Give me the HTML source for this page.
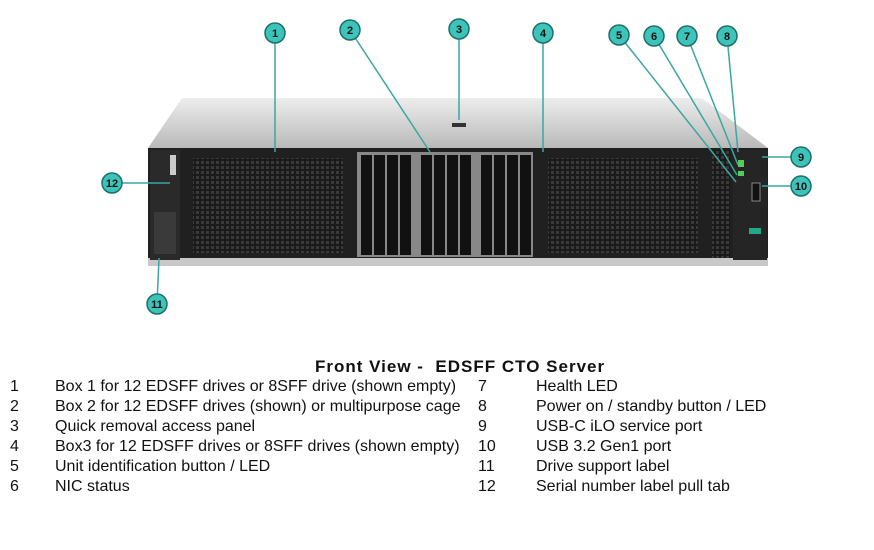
<!DOCTYPE html>
<html><head><style>
body{margin:0;width:874px;height:550px;background:#fff;overflow:hidden;font-family:"Liberation Sans",sans-serif}
.t{position:absolute;font-size:16px;color:#111;white-space:nowrap;line-height:20px}
</style></head><body>
<svg width="874" height="340" style="position:absolute;left:0;top:0">
<defs>
<linearGradient id="top" x1="0" y1="0" x2="0" y2="1"><stop offset="0" stop-color="#ededed"/><stop offset="1" stop-color="#b9b9b9"/></linearGradient>
<pattern id="grill" width="5" height="5" patternUnits="userSpaceOnUse"><rect width="5" height="5" fill="#1a1a1a"/><rect x="1" y="1" width="3" height="3" fill="#3a3a3a"/></pattern>
</defs>
<polygon points="182,98 702,98 768,148 148,148" fill="url(#top)"/>
<rect x="452" y="123" width="14" height="4" fill="#333"/>
<rect x="148" y="148" width="620" height="116" fill="#202020"/>
<rect x="148" y="258" width="620" height="8" fill="#c8c8c8"/>
<rect x="150" y="150" width="30" height="110" fill="#2a2a2a"/>
<rect x="154" y="212" width="22" height="42" fill="#3a3a3a"/>
<rect x="170" y="155" width="6" height="20" fill="#ccc"/>
<rect x="193" y="158" width="150" height="95" fill="url(#grill)"/>
<rect x="357" y="152" width="176" height="105" fill="#888"/>
<g fill="#111">
<rect x="361" y="155" width="11" height="100"/><rect x="374" y="155" width="11" height="100"/><rect x="387" y="155" width="11" height="100"/><rect x="400" y="155" width="11" height="100"/>
<rect x="421" y="155" width="11" height="100"/><rect x="434" y="155" width="11" height="100"/><rect x="447" y="155" width="11" height="100"/><rect x="460" y="155" width="11" height="100"/>
<rect x="481" y="155" width="11" height="100"/><rect x="494" y="155" width="11" height="100"/><rect x="507" y="155" width="11" height="100"/><rect x="520" y="155" width="11" height="100"/>
</g>
<rect x="548" y="158" width="150" height="95" fill="url(#grill)"/>
<rect x="712" y="150" width="18" height="108" fill="url(#grill)"/>
<rect x="733" y="150" width="34" height="110" fill="#252525"/>
<rect x="738" y="160" width="6" height="7" fill="#5c5"/><rect x="738" y="171" width="6" height="5" fill="#5c5"/>
<rect x="752" y="183" width="8" height="18" fill="#111" stroke="#888"/>
<rect x="749" y="228" width="12" height="6" fill="#2a8"/>
<g stroke="#3aa7a0" stroke-width="1.5" fill="none">
<line x1="275" y1="33" x2="275" y2="152"/><line x1="350" y1="30" x2="430" y2="152"/><line x1="459" y1="29" x2="459" y2="120"/><line x1="543" y1="33" x2="543" y2="152"/>
<line x1="619" y1="35" x2="736" y2="182"/><line x1="654" y1="36" x2="737" y2="175"/><line x1="687" y1="36" x2="738" y2="165"/><line x1="727" y1="36" x2="738" y2="152"/>
<line x1="801" y1="157" x2="762" y2="157"/><line x1="801" y1="186" x2="762" y2="186"/><line x1="112" y1="183" x2="170" y2="183"/><line x1="157" y1="304" x2="159" y2="258"/>
</g>
<g fill="#3cc4bb" stroke="#1f6e6a" stroke-width="1.5">
<circle cx="275" cy="33" r="10"/><circle cx="350" cy="30" r="10"/><circle cx="459" cy="29" r="10"/><circle cx="543" cy="33" r="10"/>
<circle cx="619" cy="35" r="10"/><circle cx="654" cy="36" r="10"/><circle cx="687" cy="36" r="10"/><circle cx="727" cy="36" r="10"/>
<circle cx="801" cy="157" r="10"/><circle cx="801" cy="186" r="10"/><circle cx="112" cy="183" r="10"/><circle cx="157" cy="304" r="10"/>
</g>
<g font-family="Liberation Sans" font-size="11" font-weight="bold" fill="#111" text-anchor="middle">
<text x="275" y="37">1</text><text x="350" y="34">2</text><text x="459" y="33">3</text><text x="543" y="37">4</text>
<text x="619" y="39">5</text><text x="654" y="40">6</text><text x="687" y="40">7</text><text x="727" y="40">8</text>
<text x="801" y="161">9</text><text x="801" y="190">10</text><text x="112" y="187">12</text><text x="157" y="308">11</text>
</g>
</svg>
<div class="t" style="left:315px;top:357px;font-weight:bold;font-size:17px;letter-spacing:1px">Front View -&nbsp; EDSFF CTO Server</div>
<div class="t" style="left:10px;top:377px">1<br>2<br>3<br>4<br>5<br>6</div>
<div class="t" style="left:55px;top:377px">Box 1 for 12 EDSFF drives or 8SFF drive (shown empty)<br>Box 2 for 12 EDSFF drives (shown) or multipurpose cage<br>Quick removal access panel<br>Box3 for 12 EDSFF drives or 8SFF drives (shown empty)<br>Unit identification button / LED<br>NIC status</div>
<div class="t" style="left:478px;top:377px">7<br>8<br>9<br>10<br>11<br>12</div>
<div class="t" style="left:536px;top:377px">Health LED<br>Power on / standby button / LED<br>USB-C iLO service port<br>USB 3.2 Gen1 port<br>Drive support label<br>Serial number label pull tab</div>
</body></html>
